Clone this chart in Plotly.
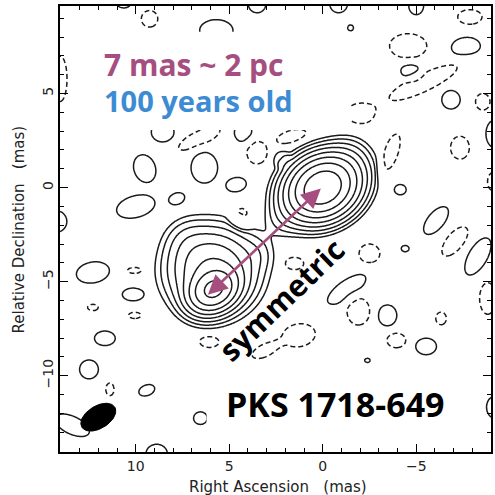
import numpy as np
import plotly.graph_objects as go

# ---- VLBI image model of PKS 1718-649 (positions in mas, RA offset / Dec offset) ----
# Bright components: x, y, peak (in units of the lowest contour), sigma along / across, angle (deg)
comp_x = [0.0, 1.7, -1.4, 5.85, 5.9, 7.2, 3.6]
comp_y = [0.0, -1.3, 1.4, -5.45, -4.4, -2.9, -3.5]
comp_peak = [230, 3, 4, 140, 35, 3, 2]
comp_sa = [0.95, 0.9, 0.7, 0.7, 1.15, 0.7, 0.6]
comp_sb = [0.76, 0.6, 0.7, 0.55, 1.1, 0.7, 0.6]
comp_pa = [28, 40, 0, 30, 0, 0, 0]

# Faint positive islands (lowest contour only)
pos_x = [10.64, 5.69, 8.56, 4.26, 9.52, 6.33, 4.63, 10.0, 7.8, 14.26, 3.51, -0.85, -5.0, -1.49,
         -7.66, -4.68, -6.86, -9.2, -4.15, -6.06, -8.3, -4.41, -1.28, -3.46, -5.53, -2.39, -9.2,
         12.29, 10.16, 11.65, 12.5, 9.41, 6.54, 8.88, 13.4, 2.2]
pos_y = [9.81, 8.35, 2.95, 2.95, 1.01, 1.06, 0.16, -1.01, -0.58, -1.8, 9.76, 9.76, 9.66, 8.49,
         7.48, 6.21, 4.67, 2.86, -0.11, -1.75, -3.66, -3.24, -5.41, -6.79, -8.44, -9.18, -11.67,
         -4.51, -5.68, -8.01, -9.66, -10.77, -12.25, -14.16, -12.63, 1.5]
pos_sa = [0.37, 0.85, 0.58, 0.45, 0.55, 0.68, 0.52, 1.0, 0.4, 0.55, 0.45, 0.45, 0.38, 0.15,
          0.74, 0.48, 0.47, 0.45, 0.3, 0.85, 1.05, 0.2, 1.15, 0.48, 0.53, 0.14, 0.42,
          0.85, 0.53, 0.53, 0.48, 0.42, 0.35, 0.55, 0.95, 0.35]
pos_sb = [0.25, 0.55, 0.5, 0.5, 0.72, 0.78, 0.36, 0.55, 0.28, 0.55, 0.45, 0.45, 0.45, 0.15,
          0.48, 0.38, 0.47, 0.7, 0.26, 0.42, 0.48, 0.16, 0.45, 0.53, 0.42, 0.11, 0.55,
          0.53, 0.32, 0.37, 0.48, 0.27, 0.32, 0.5, 0.45, 0.35]
pos_pa = [0, 0, 0, 0, 20, 0, 10, 15, 20, 0, 0, 0, 0, 0,
          5, 0, 0, 0, 0, 50, 60, 0, 35, 0, 0, 0, 0,
          10, 0, 0, 0, 20, 0, 0, -25, 0]

# Faint negative islands (dashed -1 contour)
neg_x = [9.26, 14.04, 6.6, 3.51, 4.36, -7.87, -4.57, -5.37, -8.56, -2.02, 1.65, -3.62, -7.34,
         -9.15, -7.07, -2.5, 1.54, -8.83, -1.91, -6.33, 1.28, 3.09, 6.06, -3.94, 10.05, 12.29,
         10.05, 11.38]
neg_y = [8.97, 5.78, 2.6, 1.86, -1.59, 9.07, 7.53, 5.57, 4.56, 3.93, 2.71, 1.8, 2.12,
         0.32, -2.86, -3.5, -4.03, -5.89, -6.58, -6.95, -7.85, -8.65, -8.17, -8.12, -4.4, -6.37,
         -6.79, -10.72]
neg_sa = [0.42, 0.35, 1.15, 0.52, 0.48, 0.62, 0.95, 1.9, 0.37, 0.7, 0.8, 1.05, 0.48,
          0.32, 0.9, 0.53, 0.5, 0.42, 0.58, 0.27, 0.85, 0.7, 0.53, 0.48, 0.37, 0.27,
          0.32, 0.21]
neg_sb = [0.42, 1.15, 0.38, 0.58, 0.55, 0.37, 0.62, 0.45, 0.42, 0.53, 0.32, 0.37, 0.58,
          0.48, 0.42, 0.48, 0.32, 0.8, 0.69, 0.32, 0.58, 0.32, 0.32, 0.37, 0.16, 0.16,
          0.16, 0.32]
neg_pa = [0, 0, 25, 0, 0, 0, 0, 25, 0, 0, 15, 70, 0,
          0, 50, 0, 0, 0, 0, 0, 10, 25, 0, 0, 0, 0,
          0, 0]

island_peak = 1.35

# Contour levels: -1, 1, 2, 4, ..., 128 (x lowest contour)
n_pos_levels = 8

# Restoring beam (mas, deg) and where it is drawn
beam_x, beam_y = 12.0, -12.2
beam_a, beam_b, beam_pa = 1.03, 0.6, 31

x_range = [14.05, -9.0]
y_range = [-14.05, 9.65]

mauve = "#a64e80"
blue = "#3d8bd3"
ink = "#222222"

# ---- build the brightness grid ----
gx = np.arange(-9.6, 14.7, 0.05)
gy = np.arange(-14.7, 10.3, 0.05)
X, Y = np.meshgrid(gx, gy)


def quad(x0, y0, sa, sb, pa):
    # offsets with east pointing to the left of the map
    dx = -(X - x0)
    dy = Y - y0
    t = np.deg2rad(pa)
    a = dx * np.cos(t) + dy * np.sin(t)
    b = -dx * np.sin(t) + dy * np.cos(t)
    return a ** 2 / (2 * sa ** 2) + b ** 2 / (2 * sb ** 2)


field = np.zeros_like(X)
for i in range(len(comp_x)):
    field += comp_peak[i] * np.exp(-quad(comp_x[i], comp_y[i], comp_sa[i], comp_sb[i], comp_pa[i]))
# compact, flat-topped profile for the faint islands
for i in range(len(pos_x)):
    field += island_peak * np.exp(-quad(pos_x[i], pos_y[i], pos_sa[i], pos_sb[i], pos_pa[i]) ** 2)
for i in range(len(neg_x)):
    field -= island_peak * np.exp(-quad(neg_x[i], neg_y[i], neg_sa[i], neg_sb[i], neg_pa[i]) ** 2)

log_field = np.log2(np.clip(field, 1e-3, None))

fig = go.Figure()

fig.add_trace(go.Contour(
    x=gx, y=gy, z=log_field,
    contours=dict(start=0, end=n_pos_levels - 1, size=1, coloring="none"),
    line=dict(color="#1a1a1a", width=1.5, smoothing=1.0),
    showscale=False, hoverinfo="skip",
))
fig.add_trace(go.Contour(
    x=gx, y=gy, z=-field,
    contours=dict(start=1, end=1.5, size=1, coloring="none"),
    line=dict(color="#1a1a1a", width=1.5, dash="5px,3px", smoothing=1.0),
    showscale=False, hoverinfo="skip",
))

# beam ellipse
th = np.linspace(0, 2 * np.pi, 80)
t = np.deg2rad(beam_pa)
ex = beam_a * np.cos(th) * np.cos(t) - beam_b * np.sin(th) * np.sin(t)
ey = beam_a * np.cos(th) * np.sin(t) + beam_b * np.sin(th) * np.cos(t)
fig.add_trace(go.Scatter(
    x=beam_x - ex, y=beam_y + ey, mode="lines", fill="toself",
    fillcolor="black", line=dict(color="black", width=1), hoverinfo="skip", showlegend=False,
))

axis_common = dict(
    showgrid=False, zeroline=False, showline=True, linecolor="black", linewidth=1.5,
    mirror="allticks", ticks="inside", ticklen=8, tickwidth=1.3, tickcolor="black",
    dtick=5, tick0=0,
    minor=dict(ticks="inside", ticklen=4, dtick=1, tickwidth=1.1, tickcolor="black"),
    tickfont=dict(family="DejaVu Sans", size=14, color=ink),
)

fig.update_xaxes(range=x_range, **axis_common)
fig.update_yaxes(range=y_range, tickangle=-90, **axis_common)

fig.update_layout(
    width=495, height=495,
    margin=dict(l=60, r=2, t=6, b=43),
    plot_bgcolor="white", paper_bgcolor="white",
    showlegend=False,
    shapes=[
        dict(type="rect", xref="paper", yref="paper", x0=0.023, x1=0.674, y0=0.722, y1=0.942,
             fillcolor="white", line=dict(width=0), layer="above"),
        dict(type="rect", xref="paper", yref="paper", x0=0.34, x1=0.928, y0=0.045, y1=0.152,
             fillcolor="white", line=dict(width=0), layer="above"),
    ],
)

# axis titles
title_font = dict(family="DejaVu Sans", size=15, color=ink)
fig.add_annotation(xref="paper", yref="paper", x=0.505, y=-0.078, xanchor="center", yanchor="middle",
                   text="Right Ascension\u00a0\u00a0\u00a0(mas)", showarrow=False, font=title_font)
fig.add_annotation(xref="paper", yref="paper", x=-0.094, y=0.5, xanchor="center", yanchor="middle",
                   text="Relative Declination\u00a0\u00a0\u00a0(mas)", textangle=-90, showarrow=False,
                   font=title_font)

text_font = "Open Sans"
fig.add_annotation(xref="paper", yref="paper", x=0.097, y=0.868, xanchor="left", yanchor="middle",
                   text="<b>7 mas ~ 2 pc</b>", showarrow=False,
                   font=dict(family=text_font, size=30, color=mauve))
fig.add_annotation(xref="paper", yref="paper", x=0.097, y=0.788, xanchor="left", yanchor="middle",
                   text="<b>100 years old</b>", showarrow=False,
                   font=dict(family=text_font, size=29, color=blue))
fig.add_annotation(xref="paper", yref="paper", x=0.381, y=0.108, xanchor="left", yanchor="middle",
                   text="<b>PKS 1718-649</b>", showarrow=False,
                   font=dict(family=text_font, size=34, color="black"))
fig.add_annotation(xref="paper", yref="paper", x=0.513, y=0.343, xanchor="center", yanchor="middle",
                   text="<b>symmetric</b>", textangle=-44, showarrow=False,
                   font=dict(family=text_font, size=30, color="black"))

# separation arrow between the two lobes
fig.add_annotation(x=comp_x[0] + 0.1, y=comp_y[0] - 0.05, ax=6.22, ay=-5.77,
                   xref="x", yref="y", axref="x", ayref="y",
                   text="", showarrow=True, arrowhead=2, arrowside="end+start",
                   arrowsize=1.5, arrowwidth=2.6, arrowcolor=mauve)

fig.write_html("out.html")
